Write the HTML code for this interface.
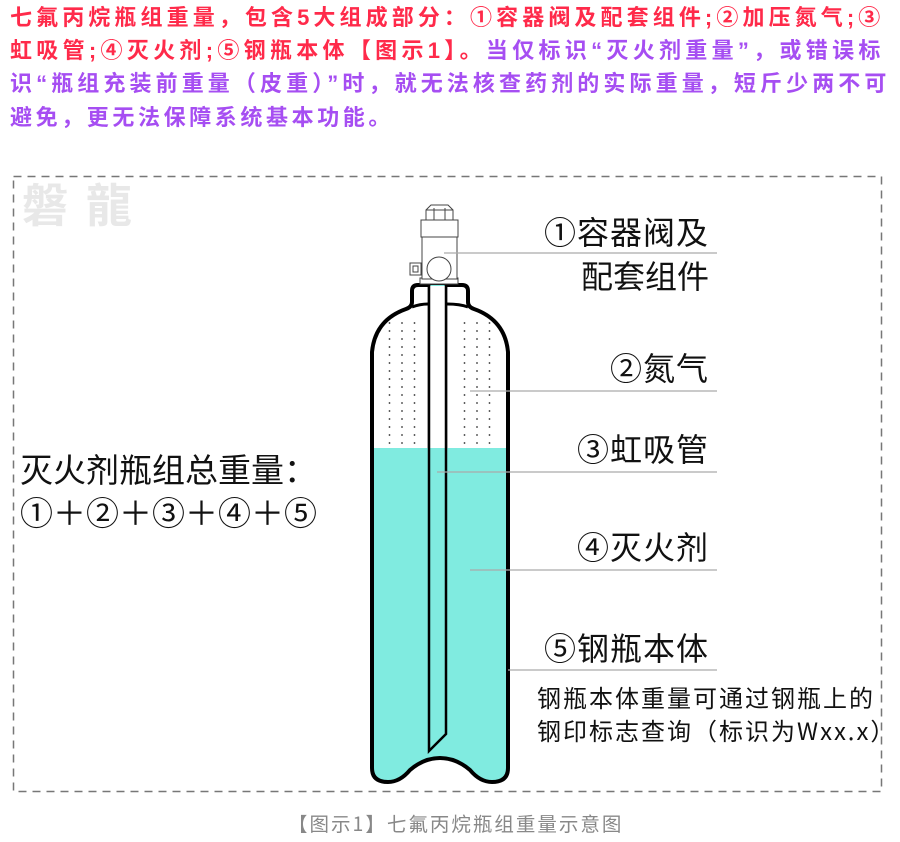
<!DOCTYPE html>
<html><head><meta charset="utf-8"><style>
body{margin:0;width:900px;height:842px;background:#fff;position:relative;overflow:hidden;font-family:"Liberation Sans","Noto Sans CJK SC",sans-serif}
.h{position:absolute;left:10px;font-size:22px;font-weight:bold;white-space:nowrap;line-height:33px}
.r{color:#ff2a4a}.p{color:#a64ef2}
.t{position:absolute;white-space:nowrap;color:#111;font-size:32px;line-height:36px;font-family:"Noto Sans CJK SC","Liberation Sans",sans-serif}
</style></head><body>
<div class="h" style="top:1px;letter-spacing:4.1px"><span class="r">七氟丙烷瓶组重量，包含5大组成部分：①容器阀及配套组件;②加压氮气;③</span></div>
<div class="h" style="top:34px;letter-spacing:4.3px"><span class="r">虹吸管;④灭火剂;⑤钢瓶本体【图示1】。</span><span class="p">当仅标识“灭火剂重量”，或错误标</span></div>
<div class="h p" style="top:67px;letter-spacing:4.1px">识“瓶组充装前重量（皮重）”时，就无法核查药剂的实际重量，短斤少两不可</div>
<div class="h p" style="top:101px;letter-spacing:3.6px">避免，更无法保障系统基本功能。</div>

<svg width="900" height="842" style="position:absolute;left:0;top:0">
<rect x="13.5" y="176.5" width="868" height="615" fill="none" stroke="#777" stroke-width="1.5" stroke-dasharray="8,6"/>
<text x="22" y="222" font-size="46" letter-spacing="18" font-weight="bold" fill="#e8e8e8" font-family="Noto Sans CJK SC,sans-serif">磐龍</text>
<defs>
<clipPath id="c"><path d="M418,285 H462 Q468,285 468,291 V302 Q468,307 474,309 Q505,320 508,352 V768 Q508,782 492,782 Q480,782 470,770 Q456,758 440,758 Q424,758 410,770 Q400,782 388,782 Q372,782 372,768 V352 Q375,320 406,309 Q412,307 412,302 V291 Q412,285 418,285 Z"/></clipPath>
</defs>
<g clip-path="url(#c)">
<rect x="360" y="448" width="160" height="340" fill="#80ebe0"/>
<g fill="#333">
<pattern id="d" x="0" y="0" width="12.5" height="8" patternUnits="userSpaceOnUse"><circle cx="2" cy="3" r="0.9"/></pattern>
<rect x="381" y="316" width="44" height="130" fill="url(#d)"/>
<rect x="455" y="316" width="44" height="130" fill="url(#d)"/>
</g>
</g>
<path d="M418,285 H462 Q468,285 468,291 V302 Q468,307 474,309 Q505,320 508,352 V768 Q508,782 492,782 Q480,782 470,770 Q456,758 440,758 Q424,758 410,770 Q400,782 388,782 Q372,782 372,768 V352 Q375,320 406,309 Q412,307 412,302 V291 Q412,285 418,285 Z" fill="none" stroke="#000" stroke-width="4"/>
<path d="M412,307 Q420,304 428,304 M468,307 Q460,304 447,304" fill="none" stroke="#000" stroke-width="3"/>
<path d="M429,285 V751 L446,734 V285" fill="#80ebe0" stroke="#000" stroke-width="2.5"/>
<rect x="429" y="286" width="17" height="162" fill="#fff"/>
<line x1="429" y1="285" x2="429" y2="448" stroke="#000" stroke-width="2.5"/>
<line x1="446" y1="285" x2="446" y2="448" stroke="#000" stroke-width="2.5"/>
<g fill="#fff" stroke="#444" stroke-width="1">
<rect x="420" y="278" width="38" height="6"/>
<rect x="422" y="237" width="35" height="42"/>
<rect x="421" y="220" width="37" height="17"/>
<path d="M426,220 V210 L431,205 H448 L453,210 V220 Z"/>
<line x1="434" y1="208" x2="434" y2="220"/><line x1="445" y1="208" x2="445" y2="220"/>
<line x1="426" y1="210" x2="453" y2="210"/>
<rect x="410" y="263" width="11" height="12"/>
<rect x="413" y="266" width="5" height="6"/>
<circle cx="439" cy="269" r="12"/>
</g>
<g stroke="#aaa" stroke-width="1.3">
<line x1="444" y1="253" x2="717" y2="253"/>
<line x1="470" y1="391" x2="717" y2="391"/>
<line x1="437" y1="472" x2="717" y2="472"/>
<line x1="470" y1="570" x2="717" y2="570"/>
<line x1="508" y1="670" x2="717" y2="670"/>
</g>
</svg>
<div class="t" style="right:191px;top:213px;letter-spacing:1px">①容器阀及</div>
<div class="t" style="right:191px;top:257px">配套组件</div>
<div class="t" style="right:191px;top:349px;letter-spacing:1px">②氮气</div>
<div class="t" style="right:191px;top:430px;letter-spacing:1px">③虹吸管</div>
<div class="t" style="right:191px;top:528px;letter-spacing:1px">④灭火剂</div>
<div class="t" style="right:191px;top:629px;letter-spacing:1px">⑤钢瓶本体</div>
<div class="t" style="left:20px;top:450px;font-size:33px">灭火剂瓶组总重量：</div>
<div class="t" style="left:20px;top:493px;font-size:33px">①＋②＋③＋④＋⑤</div>
<div class="t" style="left:537px;top:680px;font-size:24px;line-height:33px;letter-spacing:2px">钢瓶本体重量可通过钢瓶上的<br>钢印标志查询（标识为Wxx.x）</div>
<div class="t" style="left:288px;top:809px;font-size:19.5px;color:#888;line-height:28px;letter-spacing:2px">【图示1】七氟丙烷瓶组重量示意图</div>
</body></html>
